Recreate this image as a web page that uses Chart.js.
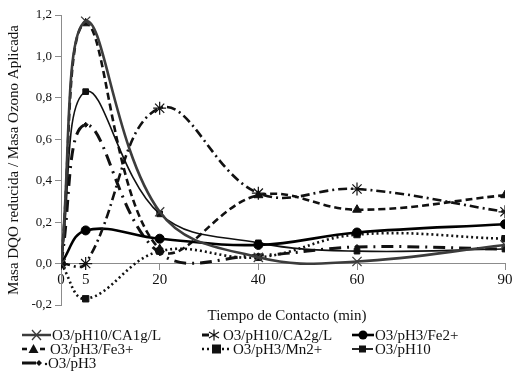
<!DOCTYPE html>
<html><head><meta charset="utf-8">
<script src="https://cdn.jsdelivr.net/npm/chart.js@4.4.0/dist/chart.umd.min.js"></script>
<style>
html,body{margin:0;padding:0;background:#fff;}
#wrap{position:relative;width:515px;height:375px;overflow:hidden;}
#c{position:absolute;left:0;top:0;}
.t{position:absolute;font-family:'Liberation Serif','Times New Roman',serif;color:#111;font-size:15px;line-height:14px;white-space:nowrap;}
.sw{position:absolute;}
</style></head>
<body><div id="wrap"><canvas id="c" width="515" height="375"></canvas></div>
<script>
// ---- data ----
const xValues = [0, 5, 20, 40, 60, 90];
const xTicks = [0, 5, 20, 40, 60, 90];
const yTicks = [-0.2, 0, 0.2, 0.4, 0.6, 0.8, 1.0, 1.2];
const seriesNames = ['O3/pH10/CA1g/L','O3/pH10/CA2g/L','O3/pH3/Fe2+','O3/pH3/Fe3+','O3/pH3/Mn2+','O3/pH10','O3/pH3'];
const ca1 = [0, 1.17, 0.25, 0.03, 0.01, 0.09];
const ca2 = [0, 0.00, 0.75, 0.34, 0.36, 0.25];
const fe2 = [0, 0.16, 0.12, 0.09, 0.15, 0.19];
const fe3 = [0, 1.16, 0.07, 0.33, 0.26, 0.33];
const mn2 = [0, -0.17, 0.06, 0.03, 0.14, 0.12];
const ph10 = [0, 0.83, 0.24, 0.10, 0.06, 0.07];
const ph3 = [0, 0.67, 0.05, 0.04, 0.08, 0.07];
const xTitle = 'Tiempo de Contacto (min)';
const yTitle = 'Masa DQO reducida / Masa Ozono Aplicada';

const serif = "'Liberation Serif','Times New Roman',serif";
const pts = arr => arr.map((v,i)=>({x:xValues[i], y:v}));

const styles = [
  {color:'#3c3c3c', w:2.6, dash:[], ps:'crossRot', r:6.5, pbw:1.3},
  {color:'#111', w:2.6, dash:[9,4,2,4], ps:'star', r:6.5, pbw:1.2},
  {color:'#000', w:2.6, dash:[], ps:'circle', r:4.5, pbw:1},
  {color:'#111', w:2.6, dash:[7,4], ps:'triangle', r:5, pbw:1},
  {color:'#111', w:2.6, dash:[2,3], ps:'rect', r:4.5, pbw:1},
  {color:'#111', w:1.6, dash:[], ps:'rect', r:4, pbw:1},
  {color:'#111', w:3, dash:[12,6,2,6], ps:'rectRot', r:2.5, pbw:1}
];
const seriesData = [ca1, ca2, fe2, fe3, mn2, ph10, ph3];

const datasets = seriesData.map((d,i)=>{
  const s = styles[i];
  return {
    label: seriesNames[i], data: pts(d),
    borderColor: s.color, backgroundColor: s.color, borderWidth: s.w, borderDash: s.dash,
    pointStyle: s.ps, pointRadius: s.r, pointBorderColor: s.color, pointBackgroundColor: s.color,
    pointBorderWidth: s.pbw, tension: 0.4, fill:false
  };
});

const fmt = v => { const r = Math.round(v*10)/10; return r.toFixed(1).replace('.', ','); };

new Chart(document.getElementById('c'), {
  type: 'line',
  data: { datasets },
  options: {
    responsive:false, animation:false,
    layout:{padding:{left:0, right:10, top:15, bottom:70}},
    plugins:{legend:{display:false}, tooltip:{enabled:false}},
    scales:{
      x:{
        type:'linear', min:0, max:90, position:{y:0},
        afterFit: s => { s.height = 0; },
        afterBuildTicks: s => { s.ticks = xTicks.map(v=>({value:v})); },
        grid:{display:true, drawOnChartArea:false, drawTicks:true, tickLength:6, color:'#8c8c8c'},
        border:{display:true, color:'#8c8c8c', width:1},
        ticks:{font:{family:serif, size:15}, color:'#111', padding:1, maxRotation:0, autoSkip:false}
      },
      y:{
        type:'linear', min:-0.2, max:1.2,
        afterFit: s => { s.width = 61; },
        afterBuildTicks: s => { s.ticks = yTicks.map(v=>({value:v})); },
        grid:{display:true, drawOnChartArea:false, drawTicks:true, tickLength:6, color:'#8c8c8c'},
        border:{display:true, color:'#8c8c8c', width:1},
        ticks:{font:{family:serif, size:13}, color:'#111', padding:3, callback: v => fmt(v)},
        title:{display:true, text:yTitle, font:{family:serif, size:15}, color:'#111', padding:{top:5, bottom:0}}
      }
    }
  }
});

// ---- HTML texts and legend ----
const wrap = document.getElementById('wrap');
function addText(txt, left, top, extra){
  const d = document.createElement('div'); d.className='t'; d.textContent = txt;
  d.style.left = left+'px'; d.style.top = top+'px';
  if (extra) Object.assign(d.style, extra);
  wrap.appendChild(d); return d;
}
const xt = addText(xTitle, 0, 308);
xt.style.left = (287 - xt.offsetWidth/2) + 'px';

function addSvg(left, top, w, inner){
  const d = document.createElement('div'); d.className='sw';
  d.style.left = left+'px'; d.style.top = top+'px';
  d.innerHTML = `<svg width="${w}" height="14" xmlns="http://www.w3.org/2000/svg">${inner}</svg>`;
  wrap.appendChild(d);
}
const rows = [328, 342, 356];
const c = 7; // vertical center inside svg
// 1 CA1g/L
addSvg(22, rows[0], 30, `<line x1="0" y1="${c}" x2="29" y2="${c}" stroke="#3c3c3c" stroke-width="2.5"/><path d="M10 2 L19 12 M19 2 L10 12" stroke="#3c3c3c" stroke-width="1.3"/>`);
addText(seriesNames[0], 52, rows[0]);
// 2 CA2g/L
addSvg(202, rows[0], 20, `<line x1="0" y1="${c}" x2="7" y2="${c}" stroke="#111" stroke-width="3"/><path d="M12 1.5 L12 12.5 M7 4 L17 10 M17 4 L7 10" stroke="#111" stroke-width="1.2"/>`);
addText(seriesNames[1], 223, rows[0]);
// 3 Fe2+
addSvg(352, rows[0], 23, `<line x1="0" y1="${c}" x2="22" y2="${c}" stroke="#000" stroke-width="2.6"/><circle cx="11" cy="${c}" r="4.5" fill="#000"/>`);
addText(seriesNames[2], 375, rows[0]);
// 4 Fe3+
addSvg(22, rows[1], 26, `<line x1="0" y1="${c}" x2="5" y2="${c}" stroke="#111" stroke-width="2.6"/><line x1="18" y1="${c}" x2="23" y2="${c}" stroke="#111" stroke-width="2.6"/><path d="M11.5 2 L16.5 11 L6.5 11 Z" fill="#111"/>`);
addText(seriesNames[3], 50, rows[1]);
// 5 Mn2+
addSvg(202, rows[1], 30, `<line x1="0" y1="${c}" x2="28" y2="${c}" stroke="#111" stroke-width="2.6" stroke-dasharray="2,3"/><rect x="10" y="${c-4.5}" width="9" height="9" fill="#111"/>`);
addText(seriesNames[4], 233, rows[1]);
// 6 pH10
addSvg(352, rows[1], 23, `<line x1="0" y1="${c}" x2="21" y2="${c}" stroke="#111" stroke-width="1.8"/><rect x="7" y="${c-3.5}" width="7" height="7" fill="#111"/>`);
addText(seriesNames[5], 375, rows[1]);
// 7 pH3
addSvg(22, rows[2], 26, `<line x1="0" y1="${c}" x2="14" y2="${c}" stroke="#111" stroke-width="3"/><path d="M17 ${c-3} L20 ${c} L17 ${c+3} L14 ${c} Z" fill="#111"/><circle cx="24" cy="${c+1}" r="1.2" fill="#111"/>`);
addText(seriesNames[6], 48, rows[2]);
</script>
</body></html>
